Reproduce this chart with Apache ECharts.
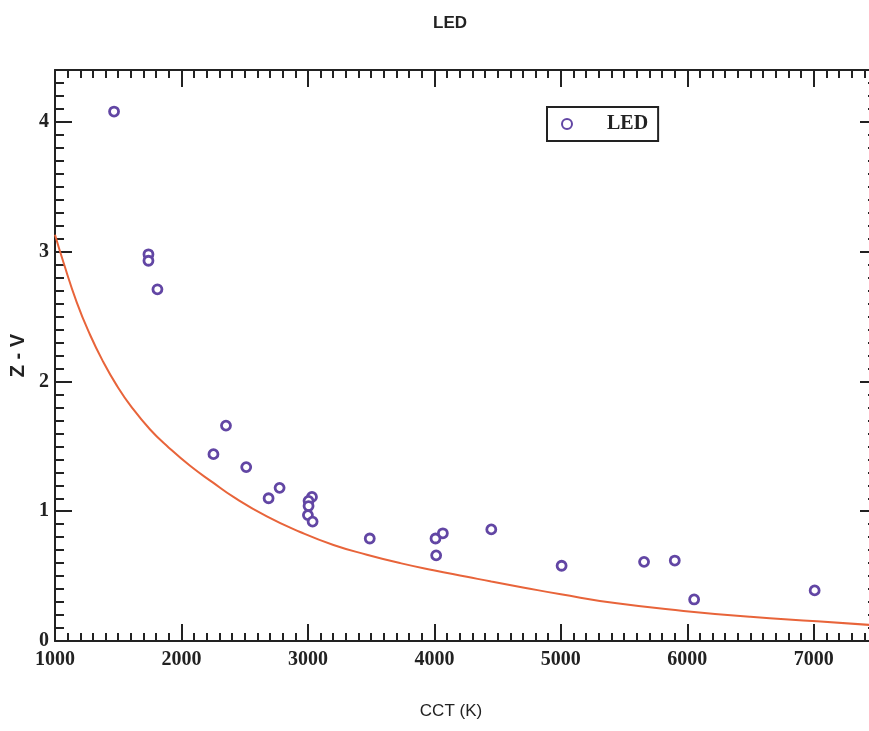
<!DOCTYPE html>
<html>
<head>
<meta charset="utf-8">
<script src="https://cdn.jsdelivr.net/npm/echarts@6/dist/echarts.min.js"></script>
<style>
html,body{margin:0;padding:0;background:#fff;}
#chart{width:869px;height:731px;}
</style>
</head>
<body>
<div id="chart"></div>
<script>
// LED measurements
const ledCCT = [1467, 1739, 1739, 1810, 2253, 2352, 2512, 2689, 2776, 3032, 3005, 3005, 3000, 3037, 3489, 4009, 4067, 4014, 4450, 5006, 5658, 5901, 6054, 7007];
const ledZV  = [4.08, 2.98, 2.93, 2.71, 1.44, 1.66, 1.34, 1.10, 1.18, 1.11, 1.08, 1.04, 0.97, 0.92, 0.79, 0.79, 0.83, 0.66, 0.86, 0.58, 0.61, 0.62, 0.32, 0.39];
// Reference curve
const curveCCT = [1000, 1066, 1172, 1277, 1382, 1488, 1600, 1752, 1900, 2068, 2250, 2411, 2675, 2938, 3202, 3466, 3730, 3993, 4257, 4450, 4700, 5000, 5443, 5970, 6498, 7025, 7500];
const curveZV  = [3.13, 2.92, 2.61, 2.36, 2.15, 1.97, 1.81, 1.63, 1.49, 1.35, 1.22, 1.11, 0.96, 0.84, 0.74, 0.665, 0.60, 0.545, 0.495, 0.458, 0.413, 0.36, 0.29, 0.232, 0.186, 0.152, 0.12];
// Axis ranges / ticks
const xMin = 1000, xMax = 7500, xMajor = 1000, xMinor = 100;
const yMin = 0, yMax = 4.4, yMajor = 1, yMinor = 0.1;

const ledData = ledCCT.map((x, i) => [x, ledZV[i]]);
const curveData = curveCCT.map((x, i) => [x, curveZV[i]]);

const ink = '#222';
const serif = 'Liberation Serif, Times New Roman, serif';
const sans = 'Liberation Sans, Arial, sans-serif';

function xAx(pos, interval, tickLen, withLine, withLabel, extra) {
  return Object.assign({
    type: 'value', position: pos, min: xMin, max: xMax, interval: interval,
    axisLine: {show: withLine, onZero: false, lineStyle: {color: ink, width: 2}},
    axisTick: {show: true, inside: true, length: tickLen, lineStyle: {color: ink, width: 2}},
    axisLabel: {show: withLabel, showMaxLabel: false, color: ink, fontFamily: serif, fontSize: 20, fontWeight: 'bold', margin: 9,
      formatter: v => String(v)},
    splitLine: {show: false}
  }, extra || {});
}
function yAx(pos, interval, tickLen, withLine, withLabel, extra) {
  return Object.assign({
    type: 'value', position: pos, min: yMin, max: yMax, interval: interval,
    axisLine: {show: withLine, onZero: false, lineStyle: {color: ink, width: 2}},
    axisTick: {show: true, inside: true, length: tickLen, lineStyle: {color: ink, width: 2}},
    axisLabel: {show: withLabel, showMaxLabel: false, color: ink, fontFamily: serif, fontSize: 20, fontWeight: 'bold', margin: 6,
      formatter: v => String(v)},
    splitLine: {show: false}
  }, extra || {});
}

const chart = echarts.init(document.getElementById('chart'), null, {renderer: 'canvas'});
chart.setOption({
  backgroundColor: '#fff',
  animation: false,
  title: {
    text: 'LED', left: 428, top: 10,
    textStyle: {fontFamily: sans, fontSize: 17, fontWeight: 'bold', color: '#222'}
  },
  legend: {
    data: ['LED'], left: 547, top: 107,
    orient: 'horizontal',
    padding: [7, 10, 7, 14],
    borderColor: ink, borderWidth: 2,
    itemWidth: 24, itemHeight: 10,
    textStyle: {fontFamily: serif, fontSize: 20, fontWeight: 'bold', color: ink, padding: [0, 0, 0, 23]}
  },
  grid: {left: 55, right: -8, top: 70, bottom: 90, containLabel: false, outerBoundsMode: 'none'},
  xAxis: [
    xAx('bottom', xMajor, 17, true, true, {
      name: 'CCT (K)', nameLocation: 'middle', nameGap: 62,
      nameTextStyle: {fontFamily: sans, fontSize: 17, color: '#222', padding: [0, 30, 0, 0]}
    }),
    xAx('bottom', xMinor, 8, false, false),
    xAx('top', xMajor, 17, true, false),
    xAx('top', xMinor, 8, false, false)
  ],
  yAxis: [
    yAx('left', yMajor, 17, true, true, {
      name: 'Z - V', nameLocation: 'middle', nameGap: 22,
      nameTextStyle: {fontFamily: sans, fontSize: 20, fontWeight: 'bold', color: '#222'}
    }),
    yAx('left', yMinor, 9, false, false),
    yAx('right', yMinor, 9, true, false),
    yAx('right', yMajor, 17, false, false)
  ],
  series: [
    {
      name: 'fit', type: 'line', data: curveData, xAxisIndex: 0, yAxisIndex: 0,
      showSymbol: false, smooth: 0.5, clip: true,
      lineStyle: {color: '#e8643a', width: 2}, z: 2
    },
    {
      name: 'LED', type: 'scatter', data: ledData, xAxisIndex: 0, yAxisIndex: 0,
      symbol: 'circle', symbolSize: 9,
      itemStyle: {color: '#fff', borderColor: '#6246a4', borderWidth: 2.8, opacity: 1}, z: 3
    }
  ]
});
</script>
</body>
</html>
